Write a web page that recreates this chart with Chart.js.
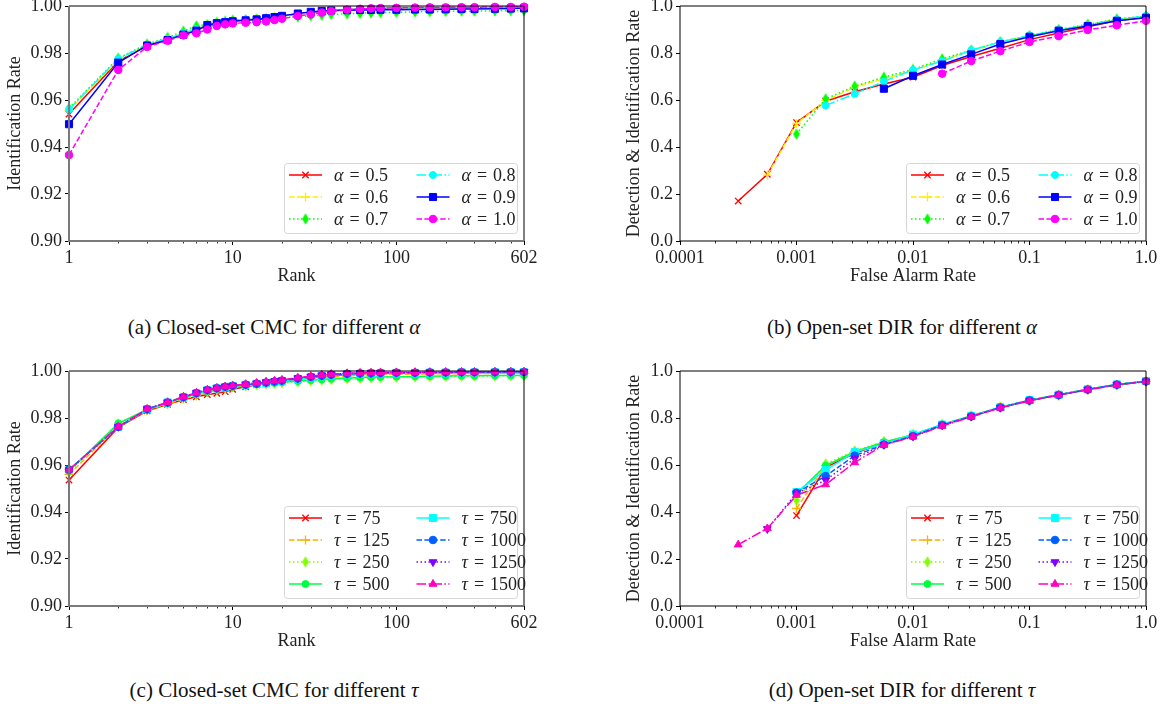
<!DOCTYPE html>
<html>
<head>
<meta charset="utf-8">
<script src="https://cdn.jsdelivr.net/npm/chart.js@4.4.1/dist/chart.umd.min.js"></script>
<style>
body{margin:0;background:#fff;width:1164px;height:704px;position:relative;overflow:hidden;font-family:'Liberation Serif',serif;}
canvas{position:absolute;}
.cap{position:absolute;font-size:21px;color:#111;white-space:nowrap;transform:translate(-50%,-50%);}
.cap i{font-style:italic;}
</style>
</head>
<body>
<canvas id="cA" width="560" height="320" style="left:0;top:-20px"></canvas>
<canvas id="cB" width="540" height="320" style="left:620px;top:-20px"></canvas>
<canvas id="cC" width="560" height="320" style="left:0;top:345px"></canvas>
<canvas id="cD" width="540" height="320" style="left:620px;top:345px"></canvas>
<div class="cap" style="left:274px;top:327px">(a) Closed-set CMC for different <i>α</i></div>
<div class="cap" style="left:902px;top:327px">(b) Open-set DIR for different <i>α</i></div>
<div class="cap" style="left:274px;top:690px">(c) Closed-set CMC for different <i>τ</i></div>
<div class="cap" style="left:902px;top:690px">(d) Open-set DIR for different <i>τ</i></div>
<script>
// ---- data ----
const ranks = [1,2,3,4,5,6,7,8,9,10,12,14,16,18,20,25,30,35,40,50,60,70,80,100,130,160,200,250,300,400,500,602];
const rankTicks = [1,10,100,602];
const rankTickLabels = ['1','10','100','602'];
const rankMinor = [2,3,4,5,6,7,8,9,20,30,40,50,60,70,80,90,200,300,400,500,600];

const far = [0.000316,0.000562,0.001,0.00178,0.00316,0.00562,0.01,0.0178,0.0316,0.0562,0.1,0.178,0.316,0.562,1.0];
const farTicks = [0.0001,0.001,0.01,0.1,1];
const farTickLabels = ['0.0001','0.001','0.01','0.1','1.0'];
const farMinor = [];
[0.0001,0.001,0.01,0.1].forEach(d => { for (let k = 2; k <= 9; k++) farMinor.push(d * k); });

const alphaNames = ['0.5','0.6','0.7','0.8','0.9','1.0'];
const tauNames = ['75','125','250','500','750','1000','1250','1500'];

// (a) CMC, different alpha
const cmcA05 = [0.9540,0.9765,0.9830,0.9858,0.9880,0.9900,0.9915,0.9925,0.9932,0.9937,0.9941,0.9944,0.9948,0.9952,0.9957,0.9966,0.9972,0.9976,0.9980,0.9984,0.9987,0.9988,0.9989,0.9990,0.9991,0.9992,0.9992,0.9993,0.9993,0.9994,0.9994,0.9995];
const cmcA06 = [0.9556,0.9770,0.9834,0.9860,0.9884,0.9904,0.9918,0.9927,0.9933,0.9938,0.9942,0.9945,0.9949,0.9953,0.9957,0.9965,0.9971,0.9975,0.9979,0.9983,0.9986,0.9987,0.9988,0.9989,0.9990,0.9991,0.9991,0.9992,0.9992,0.9993,0.9993,0.9994];
const cmcA07 = [0.9565,0.9778,0.9838,0.9866,0.9893,0.9915,0.9921,0.9930,0.9935,0.9940,0.9942,0.9944,0.9946,0.9948,0.9950,0.9954,0.9958,0.9961,0.9964,0.9967,0.9969,0.9971,0.9972,0.9973,0.9975,0.9976,0.9977,0.9978,0.9978,0.9979,0.9980,0.9980];
const cmcA08 = [0.9560,0.9776,0.9836,0.9860,0.9884,0.9902,0.9917,0.9926,0.9932,0.9937,0.9941,0.9945,0.9949,0.9953,0.9957,0.9966,0.9973,0.9978,0.9982,0.9986,0.9988,0.9989,0.9990,0.9991,0.9992,0.9992,0.9993,0.9993,0.9994,0.9994,0.9995,0.9995];
const cmcA09 = [0.9497,0.9759,0.9832,0.9855,0.9878,0.9895,0.9919,0.9927,0.9931,0.9935,0.9939,0.9943,0.9948,0.9953,0.9958,0.9968,0.9975,0.9979,0.9981,0.9982,0.9983,0.9983,0.9984,0.9984,0.9985,0.9985,0.9986,0.9987,0.9987,0.9988,0.9989,0.9990];
const cmcA10 = [0.9366,0.9728,0.9826,0.9852,0.9875,0.9884,0.9900,0.9915,0.9922,0.9926,0.9929,0.9931,0.9934,0.9940,0.9946,0.9957,0.9964,0.9972,0.9978,0.9984,0.9988,0.9990,0.9991,0.9992,0.9993,0.9994,0.9994,0.9995,0.9995,0.9996,0.9996,0.9997];

// (b) DIR, different alpha
const dirA05 = [0.170,0.284,0.504,0.595,0.635,0.668,0.697,0.747,0.785,0.820,0.857,0.885,0.912,0.937,0.953];
const dirA06 = [null,0.280,0.500,0.597,0.655,0.690,0.725,0.770,0.808,0.845,0.872,0.897,0.920,0.942,0.956];
const dirA07 = [null,null,0.455,0.605,0.659,0.697,0.730,0.775,0.812,0.848,0.874,0.900,0.922,0.945,0.957];
const dirA08 = [null,null,null,0.577,0.626,0.679,0.728,0.765,0.812,0.847,0.875,0.898,0.920,0.942,0.958];
const dirA09 = [null,null,null,null,null,0.648,0.703,0.751,0.794,0.838,0.869,0.895,0.915,0.937,0.950];
const dirA10 = [null,null,null,null,null,null,null,0.712,0.766,0.808,0.847,0.872,0.898,0.918,0.937];

// (c) CMC, different tau
const cmcT75   = [0.9536,0.9760,0.9830,0.9858,0.9878,0.9890,0.9900,0.9905,0.9912,0.9922,0.9933,0.9941,0.9947,0.9952,0.9956,0.9965,0.9971,0.9976,0.9980,0.9984,0.9987,0.9988,0.9989,0.9990,0.9991,0.9992,0.9992,0.9993,0.9993,0.9994,0.9994,0.9995];
const cmcT125  = [0.9560,0.9765,0.9832,0.9860,0.9882,0.9895,0.9908,0.9918,0.9925,0.9930,0.9937,0.9943,0.9948,0.9952,0.9956,0.9963,0.9968,0.9972,0.9975,0.9979,0.9982,0.9984,0.9985,0.9986,0.9987,0.9988,0.9988,0.9989,0.9989,0.9990,0.9990,0.9990];
const cmcT250  = [0.9570,0.9775,0.9835,0.9862,0.9886,0.9900,0.9913,0.9922,0.9928,0.9932,0.9938,0.9942,0.9945,0.9948,0.9950,0.9954,0.9958,0.9961,0.9964,0.9967,0.9969,0.9971,0.9972,0.9973,0.9975,0.9976,0.9977,0.9978,0.9978,0.9979,0.9980,0.9980];
const cmcT500  = [0.9575,0.9777,0.9836,0.9864,0.9888,0.9903,0.9916,0.9924,0.9930,0.9934,0.9939,0.9943,0.9946,0.9949,0.9952,0.9957,0.9961,0.9964,0.9967,0.9970,0.9972,0.9974,0.9975,0.9976,0.9977,0.9978,0.9979,0.9980,0.9980,0.9981,0.9981,0.9982];
const cmcT750  = [0.9580,0.9762,0.9837,0.9866,0.9888,0.9905,0.9918,0.9926,0.9932,0.9936,0.9941,0.9945,0.9949,0.9953,0.9957,0.9966,0.9973,0.9978,0.9982,0.9986,0.9988,0.9990,0.9991,0.9992,0.9992,0.9993,0.9993,0.9994,0.9994,0.9995,0.9995,0.9995];
const cmcT1000 = [0.9580,0.9762,0.9838,0.9866,0.9889,0.9906,0.9919,0.9927,0.9933,0.9937,0.9942,0.9946,0.9951,0.9955,0.9959,0.9968,0.9975,0.9980,0.9984,0.9988,0.9990,0.9991,0.9992,0.9993,0.9993,0.9994,0.9994,0.9995,0.9995,0.9995,0.9996,0.9996];
const cmcT1250 = [0.9578,0.9763,0.9838,0.9867,0.9890,0.9907,0.9920,0.9928,0.9934,0.9938,0.9943,0.9948,0.9953,0.9957,0.9961,0.9970,0.9977,0.9982,0.9986,0.9989,0.9991,0.9992,0.9993,0.9994,0.9994,0.9995,0.9995,0.9995,0.9996,0.9996,0.9996,0.9997];
const cmcT1500 = [0.9580,0.9763,0.9838,0.9867,0.9890,0.9907,0.9920,0.9928,0.9934,0.9938,0.9944,0.9949,0.9954,0.9958,0.9962,0.9971,0.9978,0.9983,0.9987,0.9990,0.9992,0.9993,0.9994,0.9994,0.9995,0.9995,0.9996,0.9996,0.9996,0.9997,0.9997,0.9997];

// (d) DIR, different tau
const dirT75   = [null,null,0.385,0.590,0.650,0.695,0.725,0.770,0.808,0.845,0.875,0.898,0.922,0.942,0.956];
const dirT125  = [null,null,0.415,0.597,0.655,0.697,0.727,0.771,0.809,0.846,0.876,0.899,0.922,0.943,0.956];
const dirT250  = [null,null,0.450,0.605,0.660,0.700,0.730,0.773,0.810,0.847,0.872,0.897,0.920,0.940,0.955];
const dirT500  = [null,null,0.478,0.597,0.657,0.697,0.728,0.771,0.809,0.846,0.876,0.899,0.922,0.943,0.956];
const dirT750  = [null,null,0.485,0.578,0.655,0.690,0.730,0.772,0.809,0.846,0.876,0.899,0.922,0.943,0.957];
const dirT1000 = [null,null,0.482,0.553,0.640,0.687,0.723,0.770,0.807,0.845,0.875,0.898,0.921,0.942,0.956];
const dirT1250 = [null,0.328,0.480,0.535,0.628,0.686,0.722,0.769,0.806,0.844,0.874,0.898,0.921,0.942,0.956];
const dirT1500 = [0.261,0.330,0.472,0.517,0.611,0.685,0.720,0.766,0.805,0.843,0.873,0.897,0.920,0.940,0.955];

// ---- styles ----
const FONT = '"Liberation Serif", "Times New Roman", serif';
const DASH = [5.5, 2.4], DOT = [1.5, 2.5], DASHDOT = [9.6, 2.4, 1.5, 2.4];

function thinDiamond(color) {
  const c = document.createElement('canvas');
  c.width = 8; c.height = 12;
  const g = c.getContext('2d');
  g.fillStyle = color;
  g.beginPath();
  g.moveTo(4, 0.3); g.lineTo(7.4, 6); g.lineTo(4, 11.7); g.lineTo(0.6, 6);
  g.closePath(); g.fill();
  return c;
}

const alphaStyles = [
  {c:'#ff0000', d:[],   p:'crossRot', r:4.5, bw:1.3},
  {c:'#ffee00', d:DASH, p:'cross',    r:4.5, bw:1.3},
  {c:'#00ff00', d:DOT,  p:thinDiamond('#00ff00')},
  {c:'#00ffff', d:DASHDOT, p:'circle', r:3.5},
  {c:'#0000ff', d:[],   p:'rect',     r:5},
  {c:'#ff00ff', d:DASH, p:'circle',   r:3.8}
];
const tauStyles = [
  {c:'#ff0000', d:[],   p:'crossRot', r:4.5, bw:1.3},
  {c:'#ffb000', d:DASH, p:'cross',    r:4.5, bw:1.3},
  {c:'#80ff00', d:DOT,  p:thinDiamond('#80ff00')},
  {c:'#00ff40', d:[],   p:'circle',   r:3.5},
  {c:'#00ffff', d:[],   p:'rect',     r:5},
  {c:'#0060ff', d:DASH, p:'circle',   r:3.8},
  {c:'#8000ff', d:DOT,  p:'triangle', r:4.5, rot:180},
  {c:'#ff00c0', d:DASHDOT, p:'triangle', r:4.5}
];

function mkSet(label, xs, ys, st, i, n) {
  const pts = [];
  xs.forEach((x, k) => { if (ys[k] != null) pts.push({x: x, y: ys[k]}); });
  return {
    label: label, data: pts,
    borderColor: st.c, backgroundColor: st.c,
    pointBackgroundColor: st.c, pointBorderColor: st.c,
    borderWidth: 1.5, borderDash: st.d,
    pointStyle: st.p, pointRadius: st.r || 4, pointRotation: st.rot || 0,
    pointBorderWidth: st.bw || 1,
    tension: 0, fill: false, clip: false, order: n - i
  };
}

// ---- plugins ----
const framePlugin = {
  id: 'frame',
  afterDatasetsDraw(chart, args, opts) {
    const a = chart.chartArea, ctx = chart.ctx, xs = chart.scales.x;
    ctx.save();
    ctx.strokeStyle = '#000'; ctx.lineWidth = 0.8;
    (opts.minor || []).forEach(v => {
      const px = Math.round(xs.getPixelForValue(v)) + 0.5;
      ctx.beginPath(); ctx.moveTo(px, a.bottom); ctx.lineTo(px, a.bottom + 2.5); ctx.stroke();
    });
    ctx.lineWidth = 1; ctx.strokeStyle = '#000';
    ctx.beginPath(); ctx.moveTo(a.left, a.top); ctx.lineTo(a.right, a.top); ctx.lineTo(a.right, a.bottom); ctx.stroke();
    ctx.lineWidth = opts.lbWidth || 1; ctx.strokeStyle = opts.lbColor || '#000';
    ctx.beginPath(); ctx.moveTo(a.left, a.top); ctx.lineTo(a.left, a.bottom); ctx.lineTo(a.right, a.bottom); ctx.stroke();
    ctx.restore();
  }
};

function drawMarker(ctx, ds, x, y) {
  if (ds.pointStyle instanceof HTMLCanvasElement) {
    ctx.drawImage(ds.pointStyle, x - ds.pointStyle.width / 2, y - ds.pointStyle.height / 2);
    return;
  }
  ctx.fillStyle = ds.pointBackgroundColor; ctx.strokeStyle = ds.pointBorderColor;
  ctx.lineWidth = ds.pointBorderWidth;
  Chart.helpers.drawPoint(ctx, {pointStyle: ds.pointStyle, rotation: ds.pointRotation, radius: ds.pointRadius, borderWidth: ds.pointBorderWidth}, x, y);
}

const boxLegend = {
  id: 'boxLegend',
  afterDraw(chart, args, opts) {
    const a = chart.chartArea, ctx = chart.ctx, sets = chart.data.datasets;
    const rows = Math.ceil(sets.length / 2), w = 233, h = rows * 22 + 4;
    const L = a.right - 7 - w, T = a.bottom - 8 - h;
    ctx.save();
    ctx.beginPath();
    ctx.roundRect(L + 0.5, T + 0.5, w, h, 3);
    ctx.fillStyle = 'rgba(255,255,255,0.85)'; ctx.fill();
    ctx.strokeStyle = '#d6d6d6'; ctx.lineWidth = 1; ctx.stroke();
    sets.forEach((ds, i) => {
      const col = Math.floor(i / rows), row = i % rows;
      const x0 = L + 5 + col * 127.5, y = T + 12 + row * 22;
      ctx.strokeStyle = ds.borderColor; ctx.lineWidth = ds.borderWidth;
      ctx.setLineDash(ds.borderDash);
      ctx.beginPath(); ctx.moveTo(x0, y); ctx.lineTo(x0 + 33, y); ctx.stroke();
      ctx.setLineDash([]);
      drawMarker(ctx, ds, x0 + 16.5, y);
      ctx.fillStyle = '#222'; ctx.textBaseline = 'middle';
      let tx = x0 + 45;
      ctx.font = 'italic 18px ' + FONT;
      ctx.fillText(opts.sym, tx, y + 1);
      tx += ctx.measureText(opts.sym).width + 6;
      ctx.font = '18px ' + FONT;
      ctx.fillText('=', tx, y + 1);
      tx += ctx.measureText('=').width + 6;
      ctx.fillText(ds.label, tx, y + 1);
    });
    ctx.restore();
  }
};

// ---- chart builder ----
function build(id, cfg) {
  const n = cfg.series.length;
  const datasets = cfg.series.map((ys, i) => mkSet(cfg.names[i], cfg.xs, ys, cfg.styles[i], i, n));
  return new Chart(document.getElementById(id), {
    type: 'line',
    data: {datasets: datasets},
    plugins: [framePlugin, boxLegend],
    options: {
      responsive: false, animation: false, events: [],
      layout: {padding: {left: 0, right: cfg.padRight, top: 26, bottom: 13}},
      plugins: {
        legend: {display: false}, tooltip: {enabled: false},
        frame: {minor: cfg.minor, lbColor: cfg.lbColor, lbWidth: cfg.lbWidth},
        boxLegend: {sym: cfg.sym}
      },
      scales: {
        x: {
          type: 'logarithmic', min: cfg.xMin, max: cfg.xMax,
          afterBuildTicks: s => { s.ticks = cfg.major.map(v => ({value: v})); },
          afterFit: s => { s.height = 46; },
          grid: {display: true, drawOnChartArea: false, drawTicks: true, tickLength: 4, color: '#000'},
          border: {display: false},
          ticks: {autoSkip: false, maxRotation: 0, padding: 2, color: '#222', font: {family: FONT, size: 18},
                  callback: (v, i) => cfg.majorLabels[i]},
          title: {display: true, text: cfg.xTitle, color: '#222', font: {family: FONT, size: 18}, padding: {top: 0, bottom: 0}}
        },
        y: {
          type: 'linear', min: cfg.yMin, max: cfg.yMax,
          afterFit: s => { s.width = cfg.yWidth; },
          grid: {display: true, drawOnChartArea: false, drawTicks: true, tickLength: 4, color: '#000'},
          border: {display: false},
          ticks: {stepSize: cfg.yStep, padding: 3, color: '#222', font: {family: FONT, size: 18},
                  callback: v => v.toFixed(cfg.yDec)},
          title: {display: true, text: cfg.yTitle, color: '#222', font: {family: FONT, size: 18}, padding: {top: cfg.yTitlePad, bottom: 0}}
        }
      }
    }
  });
}

const cmcBase = {xs: ranks, xMin: 1, xMax: 602, major: rankTicks, majorLabels: rankTickLabels, minor: rankMinor,
  xTitle: 'Rank', yTitle: 'Identification Rate', yMin: 0.9, yMax: 1.0, yStep: 0.02, yDec: 2,
  yWidth: 69, padRight: 36, yTitlePad: 4.5, lbColor: '#7a7a7a', lbWidth: 2};
const dirBase = {xs: far, xMin: 0.0001, xMax: 1, major: farTicks, majorLabels: farTickLabels, minor: farMinor,
  xTitle: 'False Alarm Rate', yTitle: 'Detection & Identification Rate', yMin: 0, yMax: 1, yStep: 0.2, yDec: 1,
  yWidth: 60, padRight: 14, yTitlePad: 3.2, lbColor: '#000', lbWidth: 1};

build('cA', Object.assign({}, cmcBase, {series: [cmcA05, cmcA06, cmcA07, cmcA08, cmcA09, cmcA10], names: alphaNames, styles: alphaStyles, sym: 'α'}));
build('cB', Object.assign({}, dirBase, {series: [dirA05, dirA06, dirA07, dirA08, dirA09, dirA10], names: alphaNames, styles: alphaStyles, sym: 'α'}));
build('cC', Object.assign({}, cmcBase, {series: [cmcT75, cmcT125, cmcT250, cmcT500, cmcT750, cmcT1000, cmcT1250, cmcT1500], names: tauNames, styles: tauStyles, sym: 'τ'}));
build('cD', Object.assign({}, dirBase, {series: [dirT75, dirT125, dirT250, dirT500, dirT750, dirT1000, dirT1250, dirT1500], names: tauNames, styles: tauStyles, sym: 'τ'}));
</script>
</body>
</html>
